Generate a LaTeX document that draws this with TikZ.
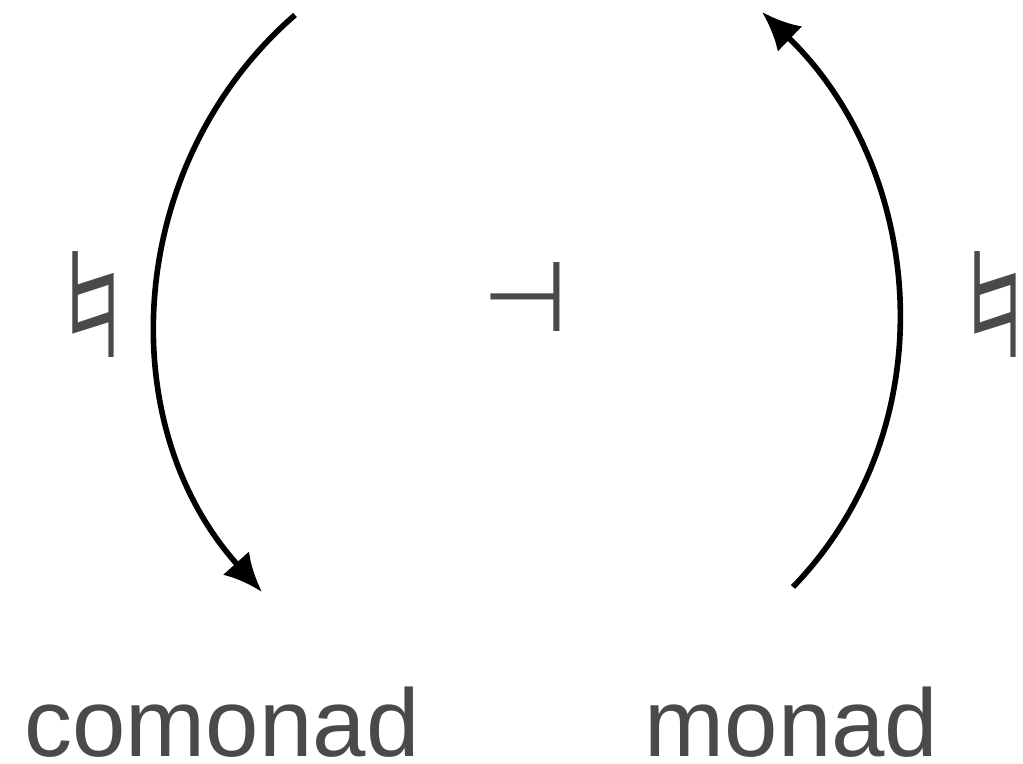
\documentclass[tikz,border=0pt]{standalone}
\usepackage{fontspec}
\setmainfont{Liberation Sans}
\newfontfamily\symfont{DejaVu Sans}
\usetikzlibrary{arrows.meta}
\definecolor{ink}{HTML}{4A4A4A}
\tikzset{
  every node/.style={inner sep=0pt, text=ink},
  word/.style={font=\fontsize{27.3}{30}\selectfont, anchor=base},
  nat/.style ={font=\symfont\fontsize{31}{34}\selectfont, xscale=2, yscale=1.33, transform shape},
  adj/.style ={font=\symfont\fontsize{28}{30}\selectfont},
  ar/.style  ={-{Latex[length=11pt,width=10pt]}, line width=1.6pt, draw=black},
}
\begin{document}
\begin{tikzpicture}[x=0.01cm, y=0.01cm]
\useasboundingbox (0,0) rectangle (1023,764);

% ============ labels ========================================================
\node[word] (como) at (222,7) {comonad};
\node[word] (mona) at (791.5,7) {monad};
\node[nat] (flatL) at (93,459) {♮};
\node[nat] (flatR) at (995,459) {♮};
\node[adj] (dv) at (525,467) {⊣};

% ============ arcs ==========================================================
\coordinate (lt) at (295,749);
\coordinate (lb) at (262,172);
\coordinate (rb) at (793,177);
\coordinate (rt) at (762,752);
\draw[ar] (lt) to[out=221, in=132] (lb);
\draw[ar] (rb) to[out=46, in=-44] (rt);

\end{tikzpicture}
\end{document}
